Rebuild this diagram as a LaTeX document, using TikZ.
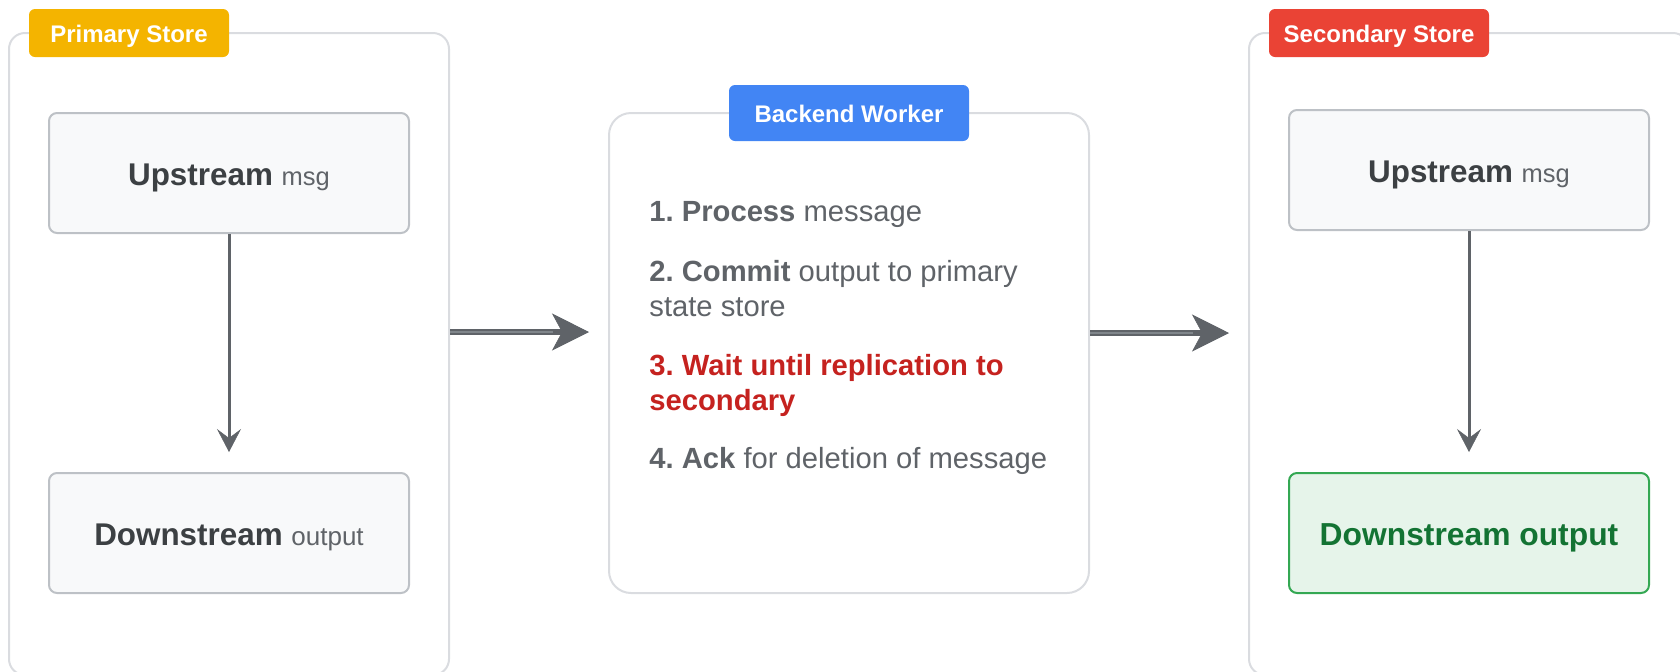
\documentclass[tikz,border=0pt]{standalone}
\usepackage{fontspec}
\setmainfont{Liberation Sans}
\usetikzlibrary{arrows.meta,calc}
\frenchspacing

\definecolor{groupline}{HTML}{DADCE0}
\definecolor{cardline}{HTML}{BDC1C6}
\definecolor{cardfill}{HTML}{F8F9FA}
\definecolor{maintext}{HTML}{3C4043}
\definecolor{subtext}{HTML}{5F6368}
\definecolor{flow}{HTML}{5F6368}
\definecolor{flowcore}{HTML}{80868B}
\definecolor{tagyellow}{HTML}{F4B400}
\definecolor{tagblue}{HTML}{4285F4}
\definecolor{tagred}{HTML}{EA4335}
\definecolor{warnred}{HTML}{C5221F}
\definecolor{okline}{HTML}{34A853}
\definecolor{okfill}{HTML}{E6F4EA}
\definecolor{oktext}{HTML}{137333}

\begin{document}
\begin{tikzpicture}[x=0.5pt,y=-0.5pt,
  group/.style={draw=groupline, line width=1pt, rounded corners=8pt,
    minimum width=220pt, minimum height=321pt, inner sep=0pt},
  workerbox/.style={draw=groupline, line width=1pt, rounded corners=11pt,
    minimum width=240pt, minimum height=240pt, inner sep=0pt},
  tag/.style={rounded corners=3pt, text=white, inner sep=0pt,
    font=\bfseries\fontsize{12}{14}\selectfont,
    minimum height=24pt, text height=9pt, text depth=0pt},
  card/.style={draw=cardline, fill=cardfill, line width=1pt, rounded corners=4pt,
    minimum width=180pt, minimum height=60pt, inner sep=0pt,
    text height=12pt, text depth=0pt, text=maintext,
    font=\fontsize{15.7}{18}\selectfont},
  okcard/.style={card, draw=okline, fill=okfill, text=oktext,
    font=\bfseries\fontsize{15.9}{18}\selectfont},
  steptext/.style={anchor=base west, inner sep=0pt, text=subtext,
    font=\fontsize{14.6}{17}\selectfont},
  vflow/.style={draw=flow, line width=1.5pt, shorten >=10pt,
    -{Stealth[length=11.5pt, width=12pt, inset=4.5pt, line width=0.3pt]}},
  hflow/.style={draw=flow, line width=3pt,
    -{Stealth[length=18.5pt, width=18.5pt, inset=5pt, line width=0.3pt]}},
  hcore/.style={draw=flowcore, line width=0.9pt, shorten >=18pt}
]
\useasboundingbox (0,0) rectangle (1680,671);

% outer containers
\node[group] (primary) at (229,354) {};
\node[workerbox] (worker) at (849,353) {};
\node[group] (secondary) at (1469,354) {};

% container tags
\node[tag, fill=tagyellow, minimum width=100pt] (ptag) at (129,33) {Primary Store};
\node[tag, fill=tagblue, minimum width=120pt, minimum height=28pt] (wtag) at (849,113) {Backend Worker};
\node[tag, fill=tagred, minimum width=110pt] (stag) at (1379,33) {Secondary Store};

% primary store cards
\node[card] (pu) at (229,173)
  {\textbf{Upstream} {\fontsize{12.75}{15}\selectfont\color{subtext}msg}};
\node[card] (pd) at (229,533)
  {\textbf{Downstream} {\fontsize{13}{15}\selectfont\color{subtext}output}};

% secondary store cards
\node[card] (su) at (1469,170)
  {\textbf{Upstream} {\fontsize{12.75}{15}\selectfont\color{subtext}msg}};
\node[okcard] (sd) at (1469,533) {Downstream output};

% worker steps
\node[steptext] (s1) at (649,221.5) {\textbf{1. Process} message};
\node[steptext] (s2) at (649,281.5) {\textbf{2. Commit} output to primary};
\node[steptext] (s2b) at (649,316) {state store};
\node[steptext, text=warnred, font=\bfseries\fontsize{14.6}{17}\selectfont] (s3) at (649,375) {3. Wait until replication to};
\node[steptext, text=warnred, font=\bfseries\fontsize{14.6}{17}\selectfont] (s3b) at (649,410) {secondary};
\node[steptext] (s4) at (649,468.5) {\textbf{4. Ack} for deletion of message};

% flows inside the stores
\draw[vflow] (pu) -- (pd);
\draw[vflow] (su) -- (sd);

% flows between stages
\draw[hflow] ($(primary.east)+(0,-22)$) -- ($(worker.west)+(-19,-21)$);
\draw[hcore] ($(primary.east)+(0,-22)$) -- ($(worker.west)+(-19,-21)$);
\draw[hflow] ($(worker.east)+(0,-20)$) -- ($(secondary.west)+(-19,-21)$);
\draw[hcore] ($(worker.east)+(0,-20)$) -- ($(secondary.west)+(-19,-21)$);
\end{tikzpicture}
\end{document}
